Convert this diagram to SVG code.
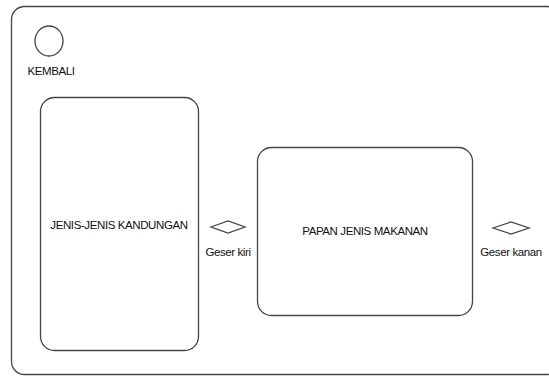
<svg xmlns="http://www.w3.org/2000/svg" width="549" height="376" viewBox="0 0 549 376">
  <style>
    .box { fill: #ffffff; stroke: #444444; stroke-width: 1.3; }
    .lbl { font-family: "Liberation Sans", Arial, sans-serif; font-size: 11.5px; fill: #111111; text-anchor: middle; letter-spacing: -0.4px; }
  </style>
  <rect x="0" y="0" width="549" height="376" fill="#ffffff"/>
  <g id="frame">
    <rect class="box" x="11.5" y="6.5" width="548" height="368" rx="13"/>
  </g>
  <g id="kembali">
    <ellipse class="box" cx="49" cy="41" rx="14" ry="15"/>
    <text class="lbl" x="51" y="75">KEMBALI</text>
  </g>
  <g id="jenis-kandungan">
    <rect class="box" x="40.5" y="97.5" width="158" height="253" rx="14"/>
    <text class="lbl" x="119" y="229">JENIS-JENIS KANDUNGAN</text>
  </g>
  <g id="papan-jenis-makanan">
    <rect class="box" x="257.5" y="147.5" width="215" height="168" rx="14"/>
    <text class="lbl" x="365" y="235">PAPAN JENIS MAKANAN</text>
  </g>
  <g id="geser-kiri">
    <polygon class="box" points="211,227 228,221 245,227 228,233"/>
    <text class="lbl" x="228" y="256">Geser kiri</text>
  </g>
  <g id="geser-kanan">
    <polygon class="box" points="493,228 511,222 529,228 511,234"/>
    <text class="lbl" x="511" y="256">Geser kanan</text>
  </g>
  <g id="connectors"></g>
</svg>
